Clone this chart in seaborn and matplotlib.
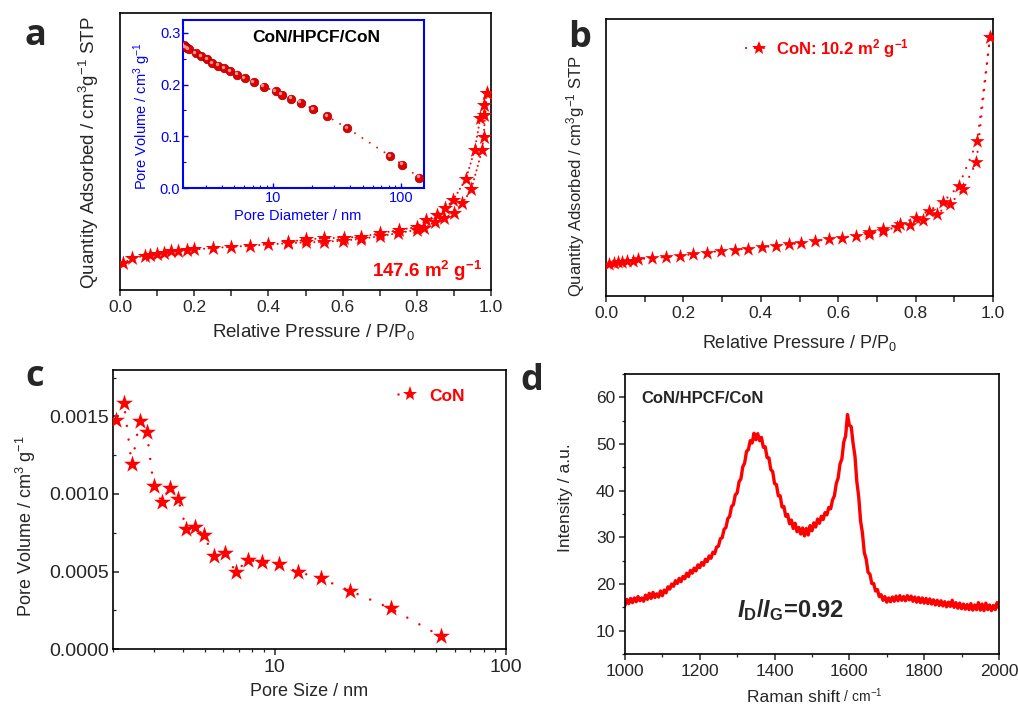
import numpy as np
import matplotlib
matplotlib.use("Agg")
import matplotlib.pyplot as plt
import matplotlib.ticker as mticker
from matplotlib.lines import Line2D
from matplotlib.transforms import offset_copy
import seaborn as sns

# ---------------- (a) N2 isotherm, CoN/HPCF/CoN ----------------
a_ads_p = [0.009, 0.031, 0.067, 0.080, 0.099, 0.119, 0.138, 0.156, 0.180, 0.200,
           0.250, 0.300, 0.351, 0.400, 0.452, 0.500, 0.550, 0.600, 0.650, 0.700,
           0.750, 0.800, 0.819, 0.850, 0.874, 0.900, 0.923, 0.947, 0.976, 0.980, 0.989]
a_ads_q = [25.0, 29.7, 32.2, 32.8, 33.8, 35.0, 36.3, 36.9, 37.5, 38.1,
           39.4, 40.6, 41.6, 42.8, 43.9, 44.7, 45.3, 46.3, 48.0, 50.5,
           53.5, 56.5, 57.9, 64.1, 67.3, 72.6, 81.4, 94.5, 131.4, 143.9, 184.6]
a_des_p = [0.989, 0.980, 0.982, 0.971, 0.956, 0.932, 0.898, 0.877, 0.855, 0.826,
           0.801, 0.751, 0.700, 0.650, 0.603, 0.550, 0.500, 0.452]
a_des_q = [184.6, 173.6, 164.3, 161.2, 131.4, 103.9, 84.5, 76.7, 70.4, 65.7,
           59.4, 56.3, 53.2, 50.0, 49.2, 48.4, 47.8, 44.7]

# inset: cumulative pore volume vs pore diameter
a_pore_d = [2.03, 2.10, 2.16, 2.22, 2.51, 2.76, 3.07, 3.38, 3.76, 4.16, 4.66, 5.25,
            6.05, 7.07, 8.46, 10.5, 11.7, 13.9, 16.5, 20.5, 26.6, 37.8, 81.6, 102, 137]
a_pore_v = [0.276, 0.273, 0.270, 0.268, 0.261, 0.255, 0.249, 0.242, 0.237, 0.232,
            0.2265, 0.219, 0.212, 0.2045, 0.196, 0.187, 0.1806, 0.173, 0.165, 0.153,
            0.1385, 0.116, 0.062, 0.045, 0.020]

# ---------------- (b) N2 isotherm, CoN ----------------
b_ads_p = [0.008, 0.020, 0.030, 0.042, 0.054, 0.070, 0.083, 0.120, 0.154, 0.190,
           0.225, 0.260, 0.296, 0.332, 0.368, 0.403, 0.438, 0.474, 0.505, 0.540,
           0.576, 0.610, 0.647, 0.680, 0.716, 0.752, 0.785, 0.820, 0.856, 0.889,
           0.923, 0.957, 0.992]
b_ads_q = [4.68, 4.77, 4.87, 4.87, 5.01, 5.01, 5.35, 5.45, 5.64, 5.83,
           6.03, 6.27, 6.51, 6.70, 6.84, 7.04, 7.23, 7.47, 7.66, 7.95,
           8.19, 8.44, 8.72, 9.01, 9.40, 9.98, 10.22, 11.04, 11.91, 13.26,
           15.47, 19.33, 37.36]
b_des_p = [0.992, 0.959, 0.911, 0.870, 0.834, 0.800, 0.760, 0.716, 0.680]
b_des_q = [37.36, 22.32, 15.86, 13.54, 12.29, 11.33, 10.36, 9.64, 9.25]

# ---------------- (c) pore size distribution, CoN ----------------
c_size = [2.06, 2.23, 2.41, 2.61, 2.80, 3.00, 3.25, 3.51, 3.82, 4.15, 4.52, 4.93,
          5.45, 6.08, 6.78, 7.64, 8.85, 10.4, 12.6, 15.8, 21.1, 31.7, 52.1]
c_vol = [0.001479, 0.001586, 0.001191, 0.001474, 0.001399, 0.001049, 0.000948,
         0.001041, 0.000970, 0.000773, 0.000788, 0.000734, 0.000601, 0.000620,
         0.000498, 0.000573, 0.000560, 0.000547, 0.000498, 0.000455, 0.000376,
         0.000262, 0.0000837]

# ---------------- (d) Raman spectrum ----------------
d_shift = np.arange(1000, 2001, 5)
d_int = [
    15.4, 16.7, 15.8, 16.9, 16.0, 17.0, 16.2, 17.3, 16.4, 17.0,
    16.3, 17.6, 16.7, 18.0, 16.9, 18.2, 17.1, 17.9, 17.2, 18.5,
    17.5, 18.7, 18.1, 19.4, 18.9, 20.0, 19.5, 20.7, 20.1, 21.2,
    20.5, 21.6, 21.1, 22.3, 21.6, 22.9, 22.3, 23.4, 22.8, 24.1,
    23.5, 24.6, 24.0, 25.3, 24.8, 26.0, 25.5, 26.8, 26.5, 27.9,
    28.1, 29.7, 29.9, 31.7, 32.1, 34.0, 34.5, 36.6, 37.0, 39.1,
    39.5, 41.9, 42.5, 45.1, 45.9, 48.4, 48.8, 50.7, 50.2, 52.3,
    50.9, 52.2, 50.7, 51.4, 49.3, 49.4, 47.1, 47.0, 44.5, 44.1,
    41.5, 41.3, 38.9, 38.9, 36.5, 36.6, 34.5, 34.9, 32.9, 33.7,
    31.9, 33.0, 31.2, 32.1, 30.7, 32.0, 30.3, 31.9, 30.5, 32.5,
    31.4, 33.1, 32.2, 33.9, 33.0, 34.5, 33.8, 35.3, 34.8, 36.4,
    36.1, 38.0, 38.9, 41.5, 42.7, 45.7, 46.8, 50.4, 51.7, 56.3,
    54.0, 53.7, 50.1, 47.4, 41.9, 38.7, 33.5, 30.9, 26.7, 25.3,
    22.5, 22.1, 20.1, 20.1, 18.5, 18.8, 17.3, 17.7, 16.5, 17.3,
    16.1, 17.0, 16.2, 17.2, 16.3, 17.4, 16.4, 17.5, 16.5, 17.3,
    16.4, 17.5, 16.6, 17.4, 16.3, 17.2, 16.1, 17.1, 16.0, 17.0,
    15.9, 16.9, 15.8, 16.8, 15.7, 16.6, 15.5, 16.5, 15.4, 16.4,
    15.3, 16.2, 15.1, 16.1, 15.2, 16.5, 15.0, 16.0, 14.8, 15.9,
    14.7, 15.7, 14.6, 15.6, 14.5, 15.8, 14.4, 15.5, 14.5, 16.0,
    14.4, 15.7, 14.3, 15.9, 14.5, 15.5, 14.3, 15.4, 14.5, 16.0,
    14.9,
]

RED = "#ff0000"
BLUE = "#0000ff"

sns.set_style("ticks")
plt.rcParams["font.family"] = ["Liberation Sans", "DejaVu Sans"]
plt.rcParams["mathtext.fontset"] = "custom"
plt.rcParams["mathtext.rm"] = "Liberation Sans"
plt.rcParams["mathtext.it"] = "Liberation Sans:italic"
plt.rcParams["mathtext.bf"] = "Liberation Sans:bold"
HAS_BFIT = "mathtext.bfit" in plt.rcParams
if HAS_BFIT:
    plt.rcParams["mathtext.bfit"] = "Liberation Sans:bold:italic"
plt.rcParams["axes.linewidth"] = 1.2
plt.rcParams["axes.edgecolor"] = "black"

fig = plt.figure(figsize=(10.18, 7.10), dpi=100)


def dotted(ax, x, y, lw, gap):
    # round-capped zero-length dashes give a line of small round dots
    sns.lineplot(x=x, y=y, ax=ax, sort=False, estimator=None, color=RED,
                 lw=lw, linestyle=(0, (0.01, gap)), dash_capstyle="round", zorder=2)


def stars(ax, x, y, s):
    sns.scatterplot(x=x, y=y, ax=ax, marker="*", s=s, color=RED,
                    linewidth=0, zorder=3)


def frame(ax):
    for sp in ax.spines.values():
        sp.set_visible(True)
        sp.set_linewidth(1.2)
        sp.set_color("black")


# ---------------- panel a ----------------
axA = fig.add_axes([0.1179, 0.5915, 0.3644, 0.3901])
dotted(axA, a_ads_p, a_ads_q, 1.5, 2.2)
dotted(axA, a_des_p, a_des_q, 1.5, 2.2)
stars(axA, a_ads_p + a_des_p, a_ads_q + a_des_q, 135)
axA.set_xlim(0, 1.0)
axA.set_ylim(0, 260)
axA.set_yticks([])
axA.xaxis.set_major_locator(mticker.MultipleLocator(0.2))
axA.xaxis.set_minor_locator(mticker.MultipleLocator(0.1))
axA.xaxis.set_major_formatter(mticker.FormatStrFormatter("%.1f"))
axA.tick_params(axis="x", which="both", direction="out", length=4, width=1.1,
                labelsize=12.5, pad=3)
frame(axA)
axA.set_xlabel("Relative Pressure / P/P$_0$", fontsize=13.5)
axA.xaxis.set_label_coords(0.52, -0.115)
axA.set_ylabel("Quantity Adsorbed / cm$^3$g$^{-1}$ STP", fontsize=13.5)
axA.yaxis.set_label_coords(-0.05, 0.495)
axA.text(0.976, 0.048, r"147.6 m$^{\mathbf{2}}$ g$^{\mathbf{-1}}$", transform=axA.transAxes,
         ha="right", va="baseline", fontsize=13.5, fontweight="bold", color=RED)

# inset: pore volume vs pore diameter
axI = fig.add_axes([0.1798, 0.7352, 0.2367, 0.2366])
axI.set_xscale("log")
dotted(axI, a_pore_d, a_pore_v, 1.4, 4.5)
sns.scatterplot(x=a_pore_d, y=a_pore_v, ax=axI, marker="o", s=38, color="#e00000",
                edgecolor="#a00000", linewidth=0.5, zorder=3)
hl = offset_copy(axI.transData, fig=fig, x=-1.0, y=1.0, units="points")
axI.scatter(a_pore_d, a_pore_v, s=6, color="#ff9090", linewidth=0, zorder=4, transform=hl)
axI.set_xlim(2, 150)
axI.set_ylim(0, 0.325)
axI.xaxis.set_major_locator(mticker.FixedLocator([10, 100]))
axI.xaxis.set_major_formatter(mticker.FuncFormatter(lambda v, p: f"{v:g}"))
axI.xaxis.set_minor_locator(mticker.LogLocator(base=10, subs=np.arange(2, 10)))
axI.xaxis.set_minor_formatter(mticker.NullFormatter())
axI.yaxis.set_major_locator(mticker.MultipleLocator(0.1))
axI.yaxis.set_minor_locator(mticker.MultipleLocator(0.05))
axI.yaxis.set_major_formatter(mticker.FormatStrFormatter("%.1f"))
axI.tick_params(which="both", direction="in", colors=BLUE, labelsize=10.5, pad=2)
axI.tick_params(which="major", length=3.5, width=1)
axI.tick_params(which="minor", length=2, width=0.8)
for sp in axI.spines.values():
    sp.set_visible(True)
    sp.set_color(BLUE)
    sp.set_linewidth(1.5)
axI.set_facecolor("white")
axI.set_xlabel("Pore Diameter / nm", fontsize=10.5, color=BLUE)
axI.xaxis.set_label_coords(0.475, -0.125)
axI.set_ylabel("Pore Volume / cm$^3$ g$^{-1}$", fontsize=10.5, color=BLUE)
axI.yaxis.set_label_coords(-0.125, 0.43)
axI.text(0.552, 0.893, "CoN/HPCF/CoN", transform=axI.transAxes, ha="center",
         va="center", fontsize=12.5, fontweight="bold", color="black")

# ---------------- panel b ----------------
axB = fig.add_axes([0.5953, 0.5831, 0.3802, 0.3901])
dotted(axB, b_ads_p, b_ads_q, 1.6, 4.0)
dotted(axB, b_des_p, b_des_q, 1.6, 4.0)
stars(axB, b_ads_p + b_des_p, b_ads_q + b_des_q, 120)
axB.set_xlim(0, 1.0)
axB.set_ylim(0, 40)
axB.set_yticks([])
axB.xaxis.set_major_locator(mticker.MultipleLocator(0.2))
axB.xaxis.set_minor_locator(mticker.MultipleLocator(0.1))
axB.xaxis.set_major_formatter(mticker.FormatStrFormatter("%.1f"))
axB.tick_params(axis="x", which="both", direction="out", length=4, width=1.1,
                labelsize=12.5, pad=3)
frame(axB)
axB.set_xlabel("Relative Pressure / P/P$_0$", fontsize=13)
axB.xaxis.set_label_coords(0.5, -0.134)
axB.set_ylabel("Quantity Adsorbed / cm$^3$g$^{-1}$ STP", fontsize=12)
axB.yaxis.set_label_coords(-0.05, 0.435)
hB = Line2D([0], [0], color=RED, lw=1.6, ls=(0, (0.01, 4.0)), dash_capstyle="round",
            marker="*", ms=10, mew=0)
axB.legend(handles=[hB], labels=[r"CoN: 10.2 m$^{\mathbf{2}}$ g$^{\mathbf{-1}}$"],
           loc="center left", bbox_to_anchor=(0.362, 0.894), frameon=False,
           borderaxespad=0, borderpad=0, handlelength=1.5, handletextpad=0.3,
           prop={"weight": "bold", "size": 12}, labelcolor=RED)

# ---------------- panel c ----------------
axC = fig.add_axes([0.1110, 0.0859, 0.3861, 0.3930])
axC.set_xscale("log")
dotted(axC, c_size, c_vol, 1.8, 5.5)
stars(axC, c_size, c_vol, 165)
axC.set_xlim(2, 100)
axC.set_ylim(0, 0.0018)
axC.xaxis.set_major_locator(mticker.FixedLocator([10, 100]))
axC.xaxis.set_major_formatter(mticker.FuncFormatter(lambda v, p: f"{v:g}"))
axC.xaxis.set_minor_locator(mticker.LogLocator(base=10, subs=np.arange(2, 10)))
axC.xaxis.set_minor_formatter(mticker.NullFormatter())
axC.yaxis.set_major_locator(mticker.MultipleLocator(0.0005))
axC.yaxis.set_minor_locator(mticker.MultipleLocator(0.00025))
axC.yaxis.set_major_formatter(mticker.FormatStrFormatter("%.4f"))
axC.tick_params(axis="x", which="both", direction="out", labelsize=14, pad=3)
axC.tick_params(axis="y", which="both", direction="in", labelsize=14, pad=3)
axC.tick_params(which="major", length=4, width=1.1)
axC.tick_params(which="minor", length=2.5, width=0.9)
frame(axC)
axC.set_xlabel("Pore Size / nm", fontsize=13)
axC.xaxis.set_label_coords(0.5, -0.122)
axC.set_ylabel("Pore Volume / cm$^3$ g$^{-1}$", fontsize=13)
axC.yaxis.set_label_coords(-0.19, 0.44)
hC = Line2D([0], [0], color=RED, lw=1.8, ls=(0, (0.01, 5.5)), dash_capstyle="round",
            marker="*", ms=11, mew=0)
axC.legend(handles=[hC], labels=["CoN"], loc="center left",
           bbox_to_anchor=(0.725, 0.907), frameon=False, borderaxespad=0,
           borderpad=0, handlelength=1.4, handletextpad=0.4,
           prop={"weight": "bold", "size": 12.5}, labelcolor=RED)

# ---------------- panel d ----------------
axD = fig.add_axes([0.6139, 0.0789, 0.3674, 0.3944])
sns.lineplot(x=d_shift, y=d_int, ax=axD, estimator=None, color=RED, lw=2.4)
axD.set_xlim(1000, 2000)
axD.set_ylim(5, 65)
axD.xaxis.set_major_locator(mticker.MultipleLocator(200))
axD.xaxis.set_minor_locator(mticker.MultipleLocator(100))
axD.yaxis.set_major_locator(mticker.MultipleLocator(10))
axD.yaxis.set_minor_locator(mticker.MultipleLocator(5))
axD.tick_params(which="both", direction="out", labelsize=12.5, pad=3)
axD.tick_params(which="major", length=4, width=1.1)
axD.tick_params(which="minor", length=2.5, width=0.9)
frame(axD)
axD.set_xlabel("")
axD.set_ylabel("Intensity / a.u.", fontsize=12.5)
axD.yaxis.set_label_coords(-0.14, 0.56)
t_raman = axD.text(0.325, -0.17, "Raman shift", transform=axD.transAxes,
                   ha="left", va="baseline", fontsize=12.5)
axD.annotate(r" / cm$^{-1}$", xy=(1, 0), xycoords=t_raman, ha="left", va="bottom",
             fontsize=10)
axD.text(0.045, 0.913, "CoN/HPCF/CoN", transform=axD.transAxes, ha="left",
         va="center", fontsize=12, fontweight="bold")
if HAS_BFIT:
    ratio = r"$\mathbfit{I}_{\mathbf{D}}\mathbf{/}\mathbfit{I}_{\mathbf{G}}$=0.92"
else:
    ratio = r"$\mathit{I}_{\mathbf{D}}\mathbf{/}\mathit{I}_{\mathbf{G}}$=0.92"
axD.text(0.299, 0.133, ratio, transform=axD.transAxes, ha="left", va="baseline",
         fontsize=17, fontweight="bold")

# panel letters
for letter, x, y in [("a", 0.0236, 0.9366), ("b", 0.558, 0.934),
                     ("c", 0.0246, 0.4563), ("d", 0.5108, 0.4507)]:
    fig.text(x, y, letter, fontsize=26, fontweight="bold",
             family=["Open Sans", "DejaVu Sans"], va="baseline", ha="left")

fig.savefig("out.png", dpi=100)
